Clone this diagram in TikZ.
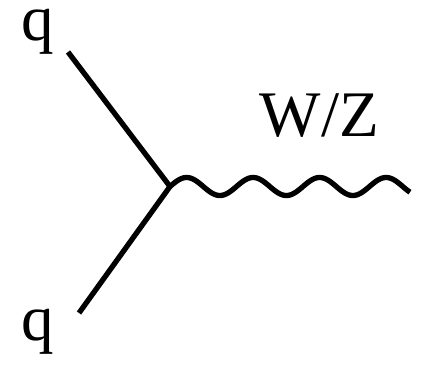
\documentclass[tikz,border=0pt]{standalone}
\usepackage{fontspec}
\setmainfont{Liberation Serif}
\begin{document}
\begin{tikzpicture}[x=1pt,y=-1pt,
  lbl/.style={inner sep=0pt,anchor=base west,text height=0.7em,text depth=0.22em,font=\fontsize{65}{70}\selectfont},
  fermion/.style={line width=5.3pt},
  boson/.style={line width=5.3pt,line join=round}]
\useasboundingbox (0,0) rectangle (426,366);
\coordinate (v) at (170,186.5);
\coordinate (q1) at (68,52);
\coordinate (q2) at (79,313);
\node[lbl,text height=0.47em] (lq1) at (21.5,41) {q};
\node[lbl,text height=0.47em,text depth=0.2em] (lq2) at (21.5,340) {q};
\node[lbl] (lwz) at (259.5,137) {W/Z};
\draw[fermion] (q1) -- (v);
\draw[fermion] (q2) -- (v);
\draw[boson] plot[domain=0:240,samples=240,smooth] ({170+\x},{186.5-9*sin(\x/66.5*360)});
\end{tikzpicture}
\end{document}
